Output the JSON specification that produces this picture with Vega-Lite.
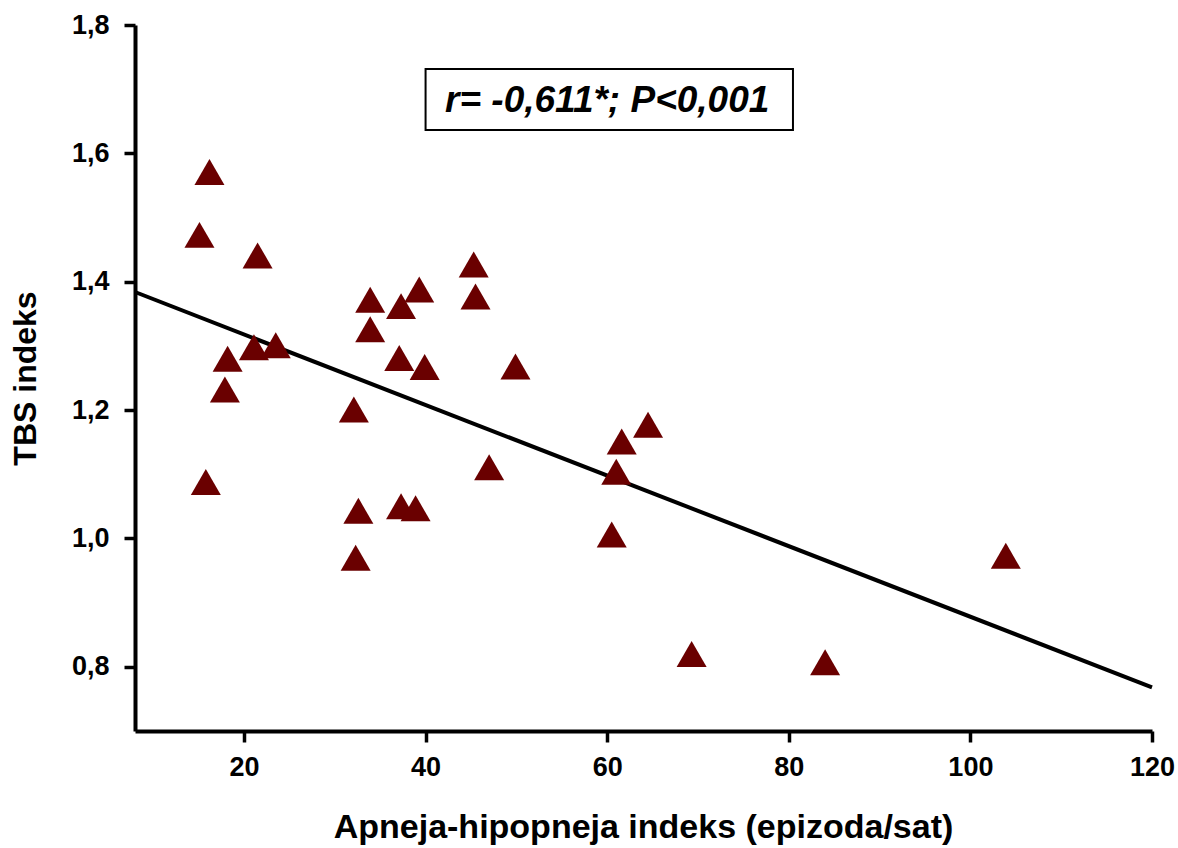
{
  "$schema": "https://vega.github.io/schema/vega-lite/v6.json",
  "width": 1017,
  "height": 706,
  "autosize": {"type": "none"},
  "padding": {"left": 135, "top": 25, "right": 26, "bottom": 117},
  "background": "white",
  "config": {
    "view": {"stroke": null},
    "font": "Liberation Sans",
    "axis": {
      "grid": false,
      "domainColor": "black",
      "domainWidth": 4,
      "tickColor": "black",
      "tickWidth": 3.5,
      "tickSize": 11,
      "labelFont": "Liberation Sans",
      "labelFontWeight": "bold",
      "labelFontSize": 27,
      "labelColor": "black",
      "labelFlush": false,
      "labelOverlap": false,
      "titleFont": "Liberation Sans",
      "titleFontWeight": "bold",
      "titleColor": "black"
    }
  },
  "datasets": {
    "points": [
      {"ahi": 16.2, "tbs": 1.571},
      {"ahi": 15.1, "tbs": 1.473},
      {"ahi": 21.5, "tbs": 1.441},
      {"ahi": 18.2, "tbs": 1.280},
      {"ahi": 21.1, "tbs": 1.298},
      {"ahi": 23.5, "tbs": 1.301},
      {"ahi": 17.9, "tbs": 1.232},
      {"ahi": 15.8, "tbs": 1.088},
      {"ahi": 32.1, "tbs": 1.201},
      {"ahi": 32.6, "tbs": 1.043},
      {"ahi": 32.3, "tbs": 0.970},
      {"ahi": 45.3, "tbs": 1.427},
      {"ahi": 45.5, "tbs": 1.377},
      {"ahi": 33.9, "tbs": 1.372},
      {"ahi": 39.3, "tbs": 1.388},
      {"ahi": 37.3, "tbs": 1.362},
      {"ahi": 33.9, "tbs": 1.326},
      {"ahi": 37.1, "tbs": 1.281},
      {"ahi": 39.9, "tbs": 1.267},
      {"ahi": 49.9, "tbs": 1.268},
      {"ahi": 47.0, "tbs": 1.111},
      {"ahi": 37.3, "tbs": 1.050},
      {"ahi": 38.9, "tbs": 1.047},
      {"ahi": 64.5, "tbs": 1.177},
      {"ahi": 61.6, "tbs": 1.151},
      {"ahi": 61.0, "tbs": 1.104},
      {"ahi": 60.5, "tbs": 1.006},
      {"ahi": 69.3, "tbs": 0.820},
      {"ahi": 84.0, "tbs": 0.807},
      {"ahi": 103.9, "tbs": 0.973}
    ],
    "fit": [
      {"ahi": 8, "tbs": 1.384},
      {"ahi": 120, "tbs": 0.768}
    ]
  },
  "layer": [
    {
      "data": {"name": "fit"},
      "mark": {"type": "line", "color": "black", "strokeWidth": 4},
      "encoding": {
        "x": {
          "field": "ahi", "type": "quantitative",
          "scale": {"domain": [8, 120], "nice": false, "zero": false},
          "axis": {
            "values": [20, 40, 60, 80, 100, 120],
            "labelFlush": false,
            "labelPadding": 12,
            "title": "Apneja-hipopneja indeks (epizoda/sat)",
            "titleFontSize": 34,
            "titleX": 508,
            "titleY": 106,
            "titleAlign": "center",
            "titleBaseline": "alphabetic"
          }
        },
        "y": {
          "field": "tbs", "type": "quantitative",
          "scale": {"domain": [0.7, 1.8], "nice": false, "zero": false},
          "axis": {
            "values": [0.8, 1.0, 1.2, 1.4, 1.6, 1.8],
            "labelFlush": false,
            "labelExpr": "replace(format(datum.value, '.1f'), '.', ',')",
            "labelPadding": 15,
            "title": "TBS indeks",
            "titleFontSize": 32,
            "titleAngle": -90,
            "titleX": -100,
            "titleY": 353,
            "titleAlign": "center",
            "titleBaseline": "alphabetic"
          }
        }
      }
    },
    {
      "data": {"name": "points"},
      "mark": {"type": "point", "shape": "triangle-up", "filled": true, "size": 900, "color": "#6a0000", "opacity": 1},
      "encoding": {
        "x": {"field": "ahi", "type": "quantitative"},
        "y": {"field": "tbs", "type": "quantitative"}
      }
    },
    {
      "data": {"values": [{}]},
      "mark": {"type": "rect", "fill": "white", "stroke": "black", "strokeWidth": 2},
      "encoding": {
        "x": {"datum": 40.0, "type": "quantitative"},
        "x2": {"datum": 80.46},
        "y": {"datum": 1.7314, "type": "quantitative"},
        "y2": {"datum": 1.6363}
      }
    },
    {
      "data": {"values": [{"label": "r= -0,611*; P<0,001"}]},
      "mark": {"type": "text", "font": "Liberation Sans", "fontWeight": "bold", "fontStyle": "italic", "fontSize": 37, "align": "center", "baseline": "alphabetic", "color": "black"},
      "encoding": {
        "x": {"datum": 60.0, "type": "quantitative"},
        "y": {"datum": 1.664, "type": "quantitative"},
        "text": {"field": "label"}
      }
    }
  ]
}
